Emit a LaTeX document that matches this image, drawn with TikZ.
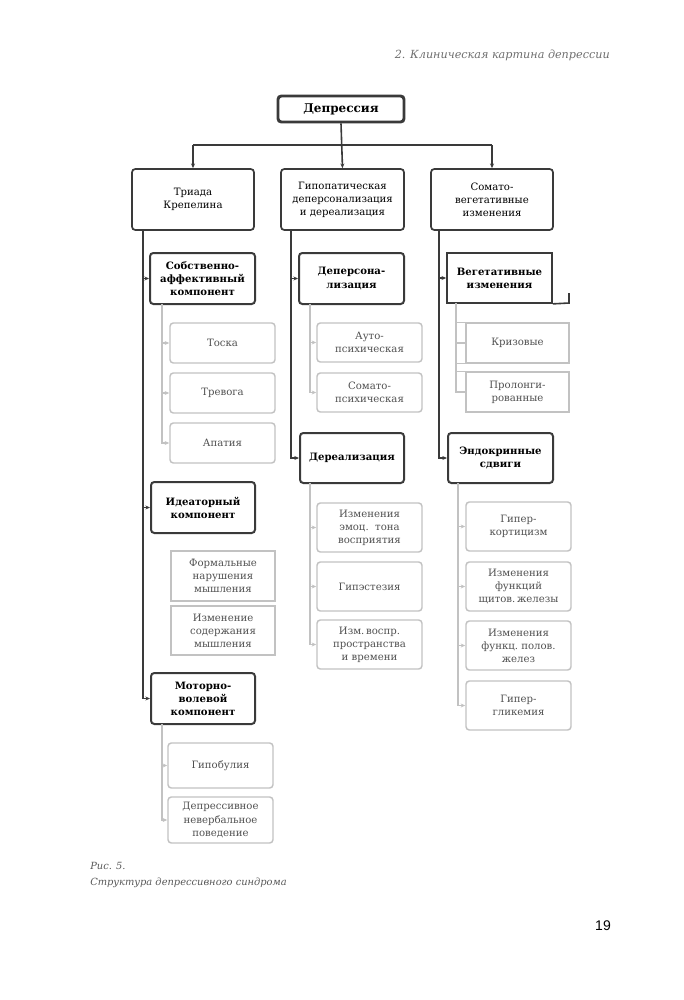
\documentclass[tikz,border=0pt]{standalone}
\usepackage{fontspec}
\setmainfont{DejaVu Serif}
\newfontfamily\pagenumfont{Liberation Sans}
\usetikzlibrary{arrows.meta,calc}
\definecolor{dk}{HTML}{3A3A3A}
\definecolor{lt}{HTML}{C2C2C2}
\definecolor{lttext}{HTML}{505050}
\definecolor{hdr}{HTML}{6E6E6E}
\tikzset{
  corners/.style args={#1/#2/#3/#4}{at={({(#1+#3)/2},{(#2+#4)/2})},
     minimum width={(#3-#1)*0.75pt}, minimum height={(#4-#2)*0.75pt}},
  bx/.style={inner sep=0pt, align=center, anchor=center, font=\fontsize{7.6}{9.8}\selectfont},
  topbox/.style={bx, draw=dk, line width=2.2pt, rounded corners=2.5pt, font=\bfseries\fontsize{9}{11}\selectfont, text=black},
  lonebox/.style={bx, draw=dk, line width=1.3pt, rounded corners=2.5pt, text=black},
  ltwobox/.style={bx, draw=dk, line width=1.5pt, rounded corners=2.5pt, font=\bfseries\fontsize{7.6}{9.8}\selectfont, text=black},
  sqbox/.style={bx, draw=dk, line width=1.3pt, font=\bfseries\fontsize{7.6}{9.8}\selectfont, text=black},
  litebox/.style={bx, draw=lt, line width=1.1pt, rounded corners=2.5pt, text=lttext},
  litesq/.style={bx, draw=lt, line width=1.1pt, text=lttext},
  dline/.style={draw=dk, line width=1.2pt},
  lline/.style={draw=lt, line width=1.1pt},
  dtip/.style={-{Stealth[length=3.5pt,width=3pt]}},
  ltip/.style={-{Stealth[length=3.5pt,width=3pt,color=lt]}},
}
\begin{document}
\begin{tikzpicture}[x=0.75pt,y=-0.75pt]
\useasboundingbox (0,0) rectangle (683,1000);
% header, caption, page number
\node[anchor=base east, text=hdr, font=\itshape\fontsize{8.4}{10}\selectfont, inner sep=0pt] (hdrtext) at (610,58) {2. Клиническая картина депрессии};
\node[anchor=base west, text=hdr!80!black, font=\itshape\fontsize{7.4}{9}\selectfont, inner sep=0pt] (cap1) at (90,869) {Рис. 5.};
\node[anchor=base west, text=hdr!80!black, font=\itshape\fontsize{7.4}{9}\selectfont, inner sep=0pt] (cap2) at (90,885) {Структура депрессивного синдрома};
\node[anchor=center, font=\pagenumfont\fontsize{10.5}{12}\selectfont, inner sep=0pt] (pnum) at (603,926) {19};

% top
\node[topbox, corners=278/96/404/122] (D) {Депрессия};
\node[lonebox, corners=132/169/254/230] (T) {Триада\\Крепелина};
\node[lonebox, corners=281/169/404/230] (G) {Гипопатическая\\деперсонализация\\и дереализация};
\node[lonebox, corners=431/169/553/230] (S) {Сомато-\\вегетативные\\изменения};
\coordinate (hb) at (341,145);
\draw[dline] (T.north |- hb) -- (S.north |- hb);
\draw[dline,dtip] (D.south) -- (G.north);
\draw[dline,dtip] (T.north |- hb) -- (T.north);
\draw[dline,dtip] (S.north |- hb) -- (S.north);

% left column
\node[ltwobox, corners=150/253/255/304] (A1) {Собственно-\\аффективный\\компонент};
\node[ltwobox, corners=151/482/255/533] (A2) {Идеаторный\\компонент};
\node[ltwobox, corners=151/673/255/724] (A3) {Моторно-\\волевой\\компонент};
\coordinate (tl) at (142.7,230);
\draw[dline,dtip] (tl) |- (A3.west);
\draw[dline,dtip] (tl |- A1.west) -- (A1.west);
\draw[dline,dtip] (tl |- A2.west) -- (A2.west);

\node[litebox, corners=170/323/275/363] (a11) {Тоска};
\node[litebox, corners=170/373/275/413] (a12) {Тревога};
\node[litebox, corners=170/423/275/463] (a13) {Апатия};
\coordinate (bl1) at (162,304);
\draw[lline,ltip] (bl1) |- (a13.west);
\draw[lline,ltip] (bl1 |- a11.west) -- (a11.west);
\draw[lline,ltip] (bl1 |- a12.west) -- (a12.west);

\node[litesq, corners=171/551/275/601] (a21) {Формальные\\нарушения\\мышления};
\node[litesq, corners=171/606/275/655] (a22) {Изменение\\содержания\\мышления};

\node[litebox, corners=168/743/273/788] (a31) {Гипобулия};
\node[litebox, corners=168/797/273/843] (a32) {Депрессивное\\невербальное\\поведение};
\coordinate (bl3) at (162,724);
\draw[lline,ltip] (bl3) |- (a32.west);
\draw[lline,ltip] (bl3 |- a31.west) -- (a31.west);

% middle column
\node[ltwobox, corners=299/253/404/304] (B1) {Деперсона-\\лизация};
\node[ltwobox, corners=300/433/404/483] (B2) {Дереализация};
\coordinate (tm) at (291,230);
\draw[dline,dtip] (tm) |- (B2.west);
\draw[dline,dtip] (tm |- B1.west) -- (B1.west);

\node[litebox, corners=317/323/422/362] (b11) {Ауто-\\психическая};
\node[litebox, corners=317/373/422/412] (b12) {Сомато-\\психическая};
\coordinate (bm1) at (310,304);
\draw[lline,ltip] (bm1) |- (b12.west);
\draw[lline,ltip] (bm1 |- b11.west) -- (b11.west);

\node[litebox, corners=317/503/422/552] (b21) {Изменения\\эмоц.\ \ тона\\восприятия};
\node[litebox, corners=317/562/422/611] (b22) {Гипэстезия};
\node[litebox, corners=317/620/422/669] (b23) {Изм.\,воспр.\\пространства\\и времени};
\coordinate (bm2) at (310,483);
\draw[lline,ltip] (bm2) |- (b23.west);
\draw[lline,ltip] (bm2 |- b21.west) -- (b21.west);
\draw[lline,ltip] (bm2 |- b22.west) -- (b22.west);

% right column
\node[sqbox, corners=447/253/552/303] (C1) {Вегетативные\\изменения};
\node[ltwobox, corners=448/433/553/483] (C2) {Эндокринные\\сдвиги};
\coordinate (tr) at (439,230);
\draw[dline,dtip] (tr) |- (C2.west);
\draw[dline,dtip] (tr |- C1.west) -- (C1.west);
\coordinate (c1e) at (569,303);
\draw[dline] (C1.south east) -- (c1e) -- ++(0,-10);

\node[litesq, corners=466/323/569/363] (c11) {Кризовые};
\node[litesq, corners=466/372/569/412] (c12) {Пролонги-\\рованные};
\coordinate (bc1) at (456,303);
\draw[lline] (bc1) |- (c12.west);
\draw[lline] (bc1 |- c11.north west) -- (c11.north west);
\draw[lline] (bc1 |- c11.west) -- (c11.west);
\draw[lline] (bc1 |- c11.south west) -- (c11.south west);
\draw[lline] (bc1 |- c12.north west) -- (c12.north west);

\node[litebox, corners=466/502/571/551] (c21) {Гипер-\\кортицизм};
\node[litebox, corners=466/562/571/611] (c22) {Изменения\\функций\\щитов.\,железы};
\node[litebox, corners=466/621/571/670] (c23) {Изменения\\функц.\ полов.\\желез};
\node[litebox, corners=466/681/571/730] (c24) {Гипер-\\гликемия};
\coordinate (bc2) at (458,483);
\draw[lline,ltip] (bc2) |- (c24.west);
\draw[lline,ltip] (bc2 |- c21.west) -- (c21.west);
\draw[lline,ltip] (bc2 |- c22.west) -- (c22.west);
\draw[lline,ltip] (bc2 |- c23.west) -- (c23.west);
\end{tikzpicture}
\end{document}
